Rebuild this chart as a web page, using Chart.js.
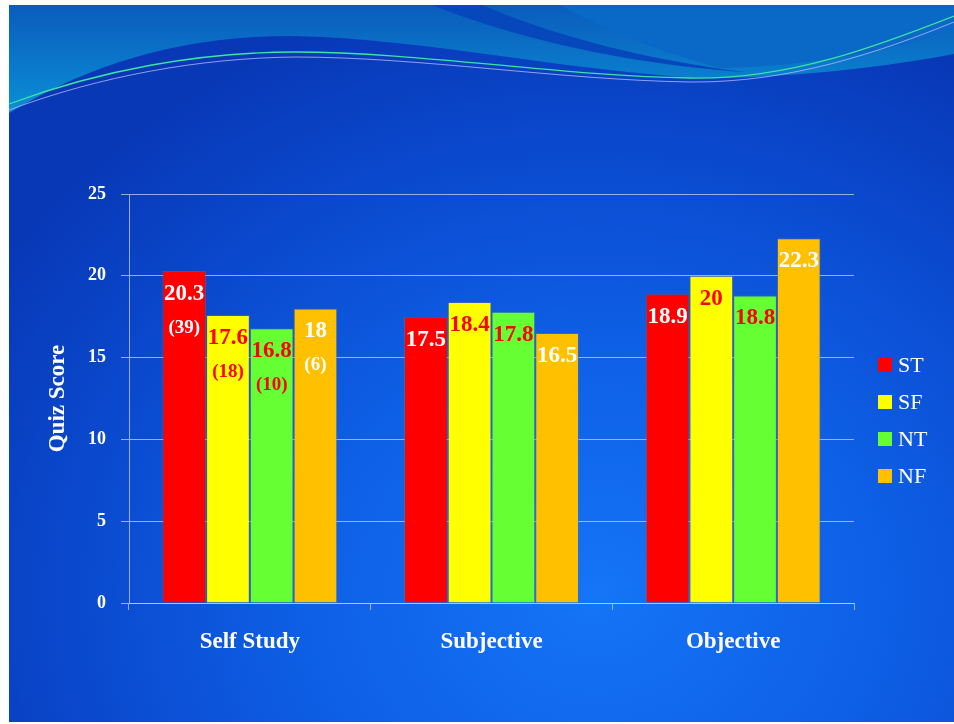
<!DOCTYPE html>
<html lang="en">
<head>
<meta charset="UTF-8">
<title>Quiz Score by Learning Style</title>
<script src="https://cdn.jsdelivr.net/npm/chart.js"></script>
<style>
  html, body { margin: 0; padding: 0; background: #fff; }
  #page { position: relative; width: 954px; height: 724px; overflow: hidden; background: #fff; }
  #slide {
    position: absolute; left: 9px; top: 5px; width: 945px; height: 717px;
    background: radial-gradient(ellipse 75% 85% at 62% 82%, #1574f7 0%, #0e60e6 40%, #0a48cd 75%, #0838b6 100%);
  }
  #waves, #chart { position: absolute; left: 0; top: 0; }
</style>
</head>
<body>
<div id="page">
  <div id="slide"></div>
  <!-- slide decoration at the top -->
  <svg id="waves" width="954" height="130">
    <defs>
      <linearGradient id="topFill" x1="0" y1="0" x2="0" y2="1">
        <stop offset="0" stop-color="#0a5cbc"/>
        <stop offset="1" stop-color="#0b8fd6"/>
      </linearGradient>
    </defs>
    <path d="M9,5 L954,5 L954,54 C 880,68 790,78 700,78 C 560,70 420,38 290,36 C 170,36 80,70 9,113 Z" fill="url(#topFill)"/>
    <path d="M560,5 L954,5 L954,30 C 880,55 800,66 720,68 C 660,52 600,28 560,5 Z" fill="#0a68c6"/>
    <path d="M432,5 L482,5 C 560,38 650,60 745,72 C 630,64 520,40 432,5 Z" fill="#0648bc"/>
    <path d="M9,104 C 100,70 200,52 295,52 C 420,52 560,76 690,78 C 790,80 880,45 954,16" fill="none" stroke="#3ce6a0" stroke-width="1.3"/>
    <path d="M9,110 C 100,76 200,58 295,57 C 420,57 560,80 690,82 C 790,83 880,52 954,22" fill="none" stroke="#b0b8ff" stroke-width="1" opacity="0.8"/>
  </svg>
  <canvas id="chart" width="954" height="724"></canvas>
</div>

<script>
    // data
    const categories = ['Self Study', 'Subjective', 'Objective'];
    const seriesNames = ['ST', 'SF', 'NT', 'NF'];
    const stScores = [20.3, 17.5, 18.9];
    const sfScores = [17.6, 18.4, 20];
    const ntScores = [16.8, 17.8, 18.8];
    const nfScores = [18, 16.5, 22.3];
    // number of students, only given for Self Study
    const stCounts = [39, null, null];
    const sfCounts = [18, null, null];
    const ntCounts = [10, null, null];
    const nfCounts = [6, null, null];
    const yTicks = [0, 5, 10, 15, 20, 25];

    const barColors = ['#ff0000', '#ffff00', '#66ff33', '#ffc000'];
    const labelColors = ['#ffffff', '#ff0000', '#ff0000', '#ffffff'];
    const gridColor = 'rgba(190, 200, 225, 0.8)';
    const serif = '"Liberation Serif", "DejaVu Serif", serif';

    const scores = [stScores, sfScores, ntScores, nfScores];
    const counts = [stCounts, sfCounts, ntCounts, nfCounts];

    // value (and count) written inside the top of each bar
    const barLabels = {
        id: 'barLabels',
        afterDatasetsDraw(chart) {
            const ctx = chart.ctx;
            ctx.save();
            ctx.textAlign = 'center';
            ctx.textBaseline = 'middle';
            chart.data.datasets.forEach((ds, i) => {
                chart.getDatasetMeta(i).data.forEach((bar, j) => {
                    ctx.fillStyle = labelColors[i];
                    ctx.font = 'bold 23px ' + serif;
                    ctx.fillText(String(ds.data[j]), bar.x, bar.y + 23);
                    const n = counts[i][j];
                    if (n != null) {
                        ctx.font = 'bold 19px ' + serif;
                        ctx.fillText('(' + n + ')', bar.x, bar.y + 57);
                    }
                });
            });
            ctx.restore();
        }
    };

    // legend on the right side, stacked
    const sideLegend = {
        id: 'sideLegend',
        afterDraw(chart) {
            const { ctx, chartArea } = chart;
            const x = chartArea.right + 24;
            ctx.save();
            ctx.textBaseline = 'middle';
            ctx.textAlign = 'left';
            chart.data.datasets.forEach((ds, i) => {
                const y = chartArea.top + 171 + i * 37;
                ctx.fillStyle = ds.backgroundColor;
                ctx.fillRect(x, y - 7, 14, 14);
                ctx.fillStyle = '#ffffff';
                ctx.font = '22px ' + serif;
                ctx.fillText(ds.label, x + 20, y + 1);
            });
            ctx.restore();
        }
    };

    new Chart(document.getElementById('chart'), {
        type: 'bar',
        data: {
            labels: categories,
            datasets: seriesNames.map((name, i) => ({
                label: name,
                data: scores[i],
                backgroundColor: barColors[i],
                borderColor: 'rgba(90, 110, 150, 0.5)',
                borderWidth: 1
            }))
        },
        options: {
            responsive: false,
            animation: false,
            layout: { padding: { top: 194, right: 100, bottom: 0, left: 0 } },
            datasets: { bar: { barPercentage: 1, categoryPercentage: 0.724 } },
            plugins: {
                legend: { display: false },
                tooltip: { enabled: false }
            },
            scales: {
                x: {
                    grid: { drawOnChartArea: false, tickLength: 7, color: gridColor, offset: true },
                    border: { color: gridColor },
                    ticks: { color: '#ffffff', font: { family: serif, size: 23, weight: 'bold' }, padding: 18 },
                    afterFit(scale) { scale.height = 121; }
                },
                y: {
                    min: 0,
                    max: 25,
                    afterBuildTicks(scale) { scale.ticks = yTicks.map(v => ({ value: v })); },
                    grid: { color: gridColor, tickLength: 8 },
                    border: { color: gridColor },
                    ticks: { color: '#ffffff', font: { family: serif, size: 18, weight: 'bold' }, padding: 15 },
                    title: {
                        display: true,
                        text: 'Quiz Score',
                        color: '#ffffff',
                        font: { family: serif, size: 23, weight: 'bold' },
                        padding: { top: 44, bottom: 0 }
                    },
                    afterFit(scale) { scale.width = 129; }
                }
            }
        },
        plugins: [barLabels, sideLegend]
    });
</script>
</body>
</html>
